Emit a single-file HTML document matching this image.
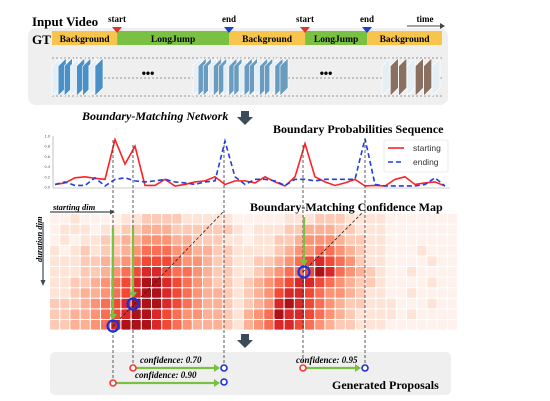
<!DOCTYPE html>
<html><head><meta charset="utf-8"><style>
body{margin:0;background:#fff;width:550px;height:401px;overflow:hidden}
svg{display:block}
.s{font-family:"Liberation Serif",serif;font-weight:bold}
</style></head><body>
<svg id="fig" width="550" height="401" viewBox="0 0 550 401">
<rect x="28" y="28" width="420" height="77" rx="8" fill="#efefef"/>
<text x="32" y="26" class="s" font-size="13">Input Video</text>
<text x="32" y="44" class="s" font-size="13">GT</text>
<g id="gt"></g>
<g id="frames"></g>
<text x="82" y="120" class="s" font-style="italic" font-size="12">Boundary-Matching Network</text>
<text x="273" y="133" class="s" font-size="12">Boundary Probabilities Sequence</text>
<g id="chart"></g>
<g id="heat"></g>
<text x="250" y="211" class="s" font-size="12">Boundary-Matching Confidence Map</text>
<rect x="50" y="352" width="401" height="43" rx="5" fill="#efefef"/>
<text x="332" y="389" class="s" font-size="12">Generated Proposals</text>
<g id="over"></g>
</svg>
<script>
var NS="http://www.w3.org/2000/svg";
function mk(p,t,a){var e=document.createElementNS(NS,t);for(var k in a)e.setAttribute(k,a[k]);p.appendChild(e);return e;}
var fig=document.getElementById('fig');
var segLabels=["Background","LongJump","Background","LongJump","Background"];
var segStart=[0,0.167,0.454,0.649,0.808];
var segEnd=[0.167,0.454,0.649,0.808,1];
var gt=document.getElementById('gt');
segLabels.forEach(function(l,i){
 var x0=52+390*segStart[i],x1=52+390*segEnd[i];
 var r=mk(gt,'rect',{x:x0,y:31,width:x1-x0,height:14,fill:i%2?'#7ac143':'#f7c54d'});
 
 
 var t=mk(gt,'text',{x:(x0+x1)/2,y:42,'text-anchor':'middle','class':'s','font-size':'9.5'});t.textContent=l;
 
 
});
var marks=[[117,'start','#e8302a'],[229,'end','#1a3fd6'],[305,'start','#e8302a'],[367,'end','#1a3fd6']];
marks.forEach(function(m){
 mk(gt,'polygon',{points:(m[0]-5)+',27 '+(m[0]+5)+',27 '+m[0]+',33',fill:m[2]});
 var t=mk(gt,'text',{x:m[0],y:22,'text-anchor':'middle','class':'s','font-size':'9'});t.textContent=m[1];
 
 
});
var tt=mk(gt,'text',{x:425,y:22,'text-anchor':'middle','class':'s','font-size':'9'});tt.textContent='time';


mk(gt,'line',{x1:407,y1:26,x2:440,y2:26,stroke:'#444','stroke-width':1});
mk(gt,'polygon',{points:'440,23 445,26 440,29',fill:'#444'});
var fr=document.getElementById('frames');
[58,78,96].forEach(function(y){mk(fr,'line',{x1:52,y1:y,x2:442,y2:y,stroke:'#777','stroke-dasharray':'2,2','stroke-width':0.7});});
function stack(x0,x1,n,col){for(var i=0;i<n;i++){var x=x0+(x1-x0-10)*i/(n-1);
 mk(fr,'polygon',{points:x+','+66+' '+(x+8)+',58 '+(x+8)+',88 '+x+',96',fill:i%3==0?'#e6eef5':col,stroke:'#fff','stroke-width':0.6});}}
stack(52,105,8,'#4a90c8');stack(193,290,18,'#6a9cc0');stack(382,442,7,'#8a7060');
[[148,77],[326,77]].forEach(function(p){var t=mk(fr,'text',{x:p[0],y:p[1],'text-anchor':'middle','font-size':'12','font-weight':'bold','font-family':'Liberation Sans'});t.textContent='\u2022\u2022\u2022';});
function bigArrow(x,y){var a=mk(fig,'polygon',{points:(x-4)+','+y+' '+(x+4)+','+y+' '+(x+4)+','+(y+6)+' '+(x+8)+','+(y+6)+' '+x+','+(y+14)+' '+(x-8)+','+(y+6)+' '+(x-4)+','+(y+6),fill:'#3d4a57'});
 }
bigArrow(245,111);bigArrow(245,334);
var starting=[0.05,0.08,0.18,0.2,0.17,0.15,0.93,0.45,0.8,0.03,0.03,0.15,0.02,0.05,0.1,0.12,0.2,0.05,0.12,0.12,0.08,0.2,0.1,0.02,0.2,0.85,0.2,0.1,0.03,0.08,0.15,0.02,0.03,0.02,0.15,0.2,0.05,0.08,0.1,0.02];
var ending=[0.05,0.1,0.03,0.03,0.18,0.02,0.15,0.18,0.12,0.1,0.12,0.15,0.1,0.08,0.05,0.1,0.12,0.9,0.2,0.05,0.15,0.15,0.12,0.03,0.15,0.15,0.12,0.15,0.15,0.15,0.15,0.95,0.05,0.02,0.02,0.02,0.02,0.05,0.18,0.02];
var yTicks=["0.0","0.2","0.4","0.6","0.8","1.0"];
function X(i){return 55+10*i;}
function Y(v){return 187-51*v;}
var ch=document.getElementById('chart');
mk(ch,'line',{x1:53,y1:136,x2:53,y2:188,stroke:'#999','stroke-width':0.6});
mk(ch,'line',{x1:53,y1:188,x2:450,y2:188,stroke:'#999','stroke-width':0.6});
yTicks.forEach(function(t){var e=mk(ch,'text',{x:50,y:Y(+t)+1.5,'text-anchor':'end','font-size':'4','fill':'#555','font-family':'Liberation Sans'});e.textContent=t;
 });
function path(arr){return arr.map(function(v,i){return (i?'L':'M')+X(i)+','+Y(v);}).join('');}
var pr=mk(ch,'path',{d:path(starting),fill:'none',stroke:'#f22','stroke-width':1.6});

var pb=mk(ch,'path',{d:path(ending),fill:'none',stroke:'#1f3fe0','stroke-width':1.6,'stroke-dasharray':'5,3'});

var lg=mk(ch,'g',{});
mk(lg,'rect',{x:384,y:140,width:64,height:32,fill:'#fff',stroke:'#ddd','stroke-width':0.6,rx:2});
mk(lg,'line',{x1:388,y1:148,x2:404,y2:148,stroke:'#f22','stroke-width':1.6});
mk(lg,'line',{x1:388,y1:162,x2:404,y2:162,stroke:'#1f3fe0','stroke-width':1.6,'stroke-dasharray':'5,3'});
var l1=mk(lg,'text',{x:413,y:151,'font-size':'8.5','font-family':'Liberation Sans',fill:'#333'});l1.textContent='starting';
var l2=mk(lg,'text',{x:413,y:165,'font-size':'8.5','font-family':'Liberation Sans',fill:'#333'});l2.textContent='ending';
var heatRows=["1121111223333222221111122233322221111111","1222122334443333332122233444332221111111","1212233445554433322122334555433221111111","2123233456665544332222345566543221112111","2223344567776554332233456787653221111211","2223345678876654332234566798654321121111","2233456789987654332345678876543321111211","2234456789987654432345788765543221121111","3334567899987654432345898765433222111211","3344567899876554432456988765432222121111","3344568999876544432456887654332221111111"];
var palette=["#fff","#fff1ec","#fee3d7","#fdcab6","#fcb096","#fc9374","#f86f55","#f04936","#d8282a","#ad1219"];
var hm=document.getElementById('heat');
heatRows.forEach(function(row,r){for(var c=0;c<row.length;c++){
 var e=mk(hm,'rect',{x:50+10.2*c,y:214+10.6*r,width:9.2,height:9.6,rx:1,fill:palette[+row[c]]});
 }});
var ov=document.getElementById('over');
var t1=mk(ov,'text',{x:53,y:210,'class':'s','font-style':'italic','font-size':'8.5'});t1.textContent='starting dim';

mk(ov,'line',{x1:50,y1:212,x2:110,y2:212,stroke:'#3d4a57','stroke-width':1.2});
mk(ov,'polygon',{points:'110,209.5 115,212 110,214.5',fill:'#3d4a57'});
var t2=mk(ov,'text',{x:0,y:0,'class':'s','font-style':'italic','font-size':'8.5',transform:'translate(42,262) rotate(-90)'});t2.textContent='duration dim';

mk(ov,'line',{x1:43,y1:222,x2:43,y2:280,stroke:'#3d4a57','stroke-width':1.2});
mk(ov,'polygon',{points:'40.5,280 43,286 45.5,280',fill:'#3d4a57'});
[[113,140,385],[133,145,368],[224,145,368],[303,145,368],[365,140,368]].forEach(function(v){
 mk(ov,'line',{x1:v[0],y1:v[1],x2:v[0],y2:v[2],stroke:'#333','stroke-width':0.8,'stroke-dasharray':'3,2'});});
mk(ov,'line',{x1:113,y1:326,x2:224,y2:211,stroke:'#222','stroke-width':0.8,'stroke-dasharray':'3,2'});
mk(ov,'line',{x1:303,y1:272,x2:363,y2:212,stroke:'#222','stroke-width':0.8,'stroke-dasharray':'3,2'});
function garrowV(x,y1,y2){mk(ov,'line',{x1:x,y1:y1,x2:x,y2:y2-5,stroke:'#7ac143','stroke-width':2.2});mk(ov,'polygon',{points:(x-4)+','+(y2-6)+' '+(x+4)+','+(y2-6)+' '+x+','+y2,fill:'#7ac143'});}
function garrowH(x1,x2,y){mk(ov,'line',{x1:x1,y1:y,x2:x2-5,y2:y,stroke:'#7ac143','stroke-width':2.2});mk(ov,'polygon',{points:(x2-6)+','+(y-4)+' '+(x2-6)+','+(y+4)+' '+x2+','+y,fill:'#7ac143'});}
garrowV(113,228,320);garrowV(133,228,298);garrowV(304,217,266);
[[113,326],[133,304],[304,272]].forEach(function(p){var c=mk(ov,'circle',{cx:p[0],cy:p[1],r:5.5,fill:'none',stroke:'#1a2fe0','stroke-width':2.2});
 });
garrowH(136,220,368);garrowH(116,220,383);garrowH(306,361,368);
[[133,368,'#f33'],[113,383,'#f33'],[303,368,'#f33'],[224,368,'#1a2fe0'],[224,382,'#1a2fe0'],[365,368,'#1a2fe0']].forEach(function(p){
 var c=mk(ov,'circle',{cx:p[0],cy:p[1],r:3,fill:'#fff',stroke:p[2],'stroke-width':1.6});
 });
[[140,363,'confidence: 0.70'],[135,378,'confidence: 0.90'],[296,363,'confidence: 0.95']].forEach(function(p){
 var t=mk(ov,'text',{x:p[0],y:p[1],'class':'s','font-style':'italic','font-size':'9'});t.textContent=p[2];
 });
</script>
</body></html>
